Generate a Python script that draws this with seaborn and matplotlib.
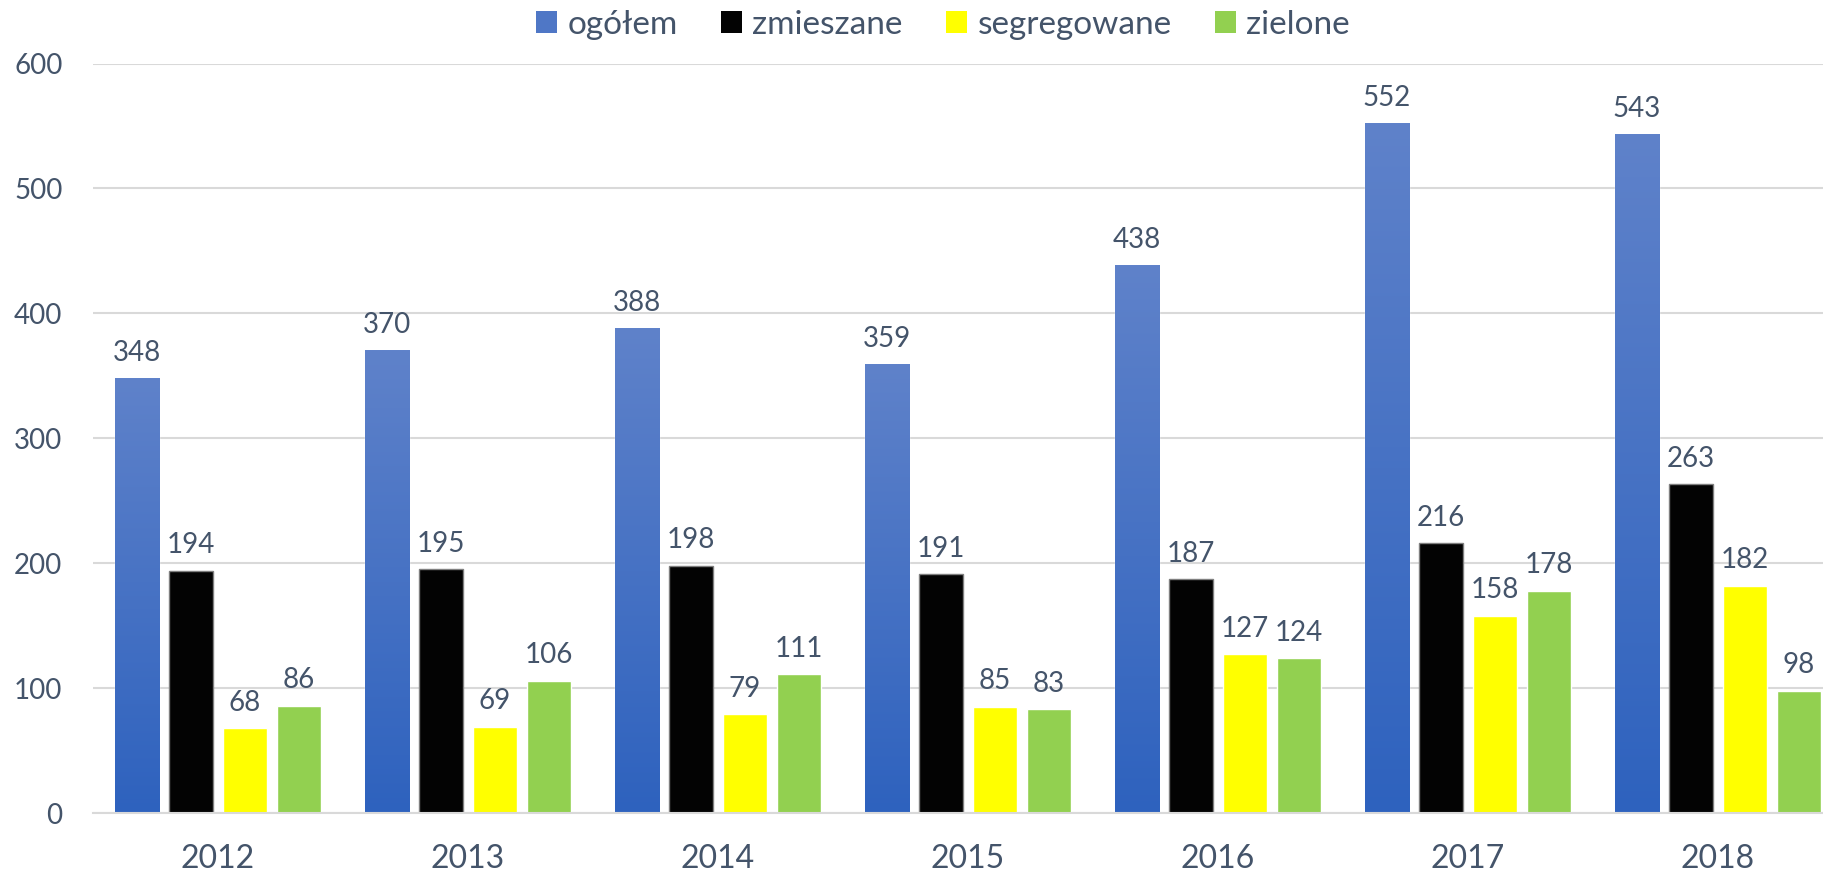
import numpy as np
import pandas as pd
import matplotlib
matplotlib.use("Agg")
import matplotlib.pyplot as plt
from matplotlib.colors import LinearSegmentedColormap
from matplotlib.patches import Patch
import seaborn as sns

years = ["2012", "2013", "2014", "2015", "2016", "2017", "2018"]
series = ["ogółem", "zmieszane", "segregowane", "zielone"]
ogolem = [348, 370, 388, 359, 438, 552, 543]
zmieszane = [194, 195, 198, 191, 187, 216, 263]
segregowane = [68, 69, 79, 85, 127, 158, 182]
zielone = [86, 106, 111, 83, 124, 178, 98]
colors = ["#4472C4", "#030303", "#FFFF00", "#92D050"]

df = pd.DataFrame({
    "rok": years * 4,
    "seria": np.repeat(series, len(years)),
    "wartosc": ogolem + zmieszane + segregowane + zielone,
})

sns.set_style("white")
plt.rcParams["font.family"] = ["Lato", "DejaVu Sans"]
txt = "#44546A"

fig = plt.figure(figsize=(18.24, 8.74), dpi=100)
ax = fig.add_axes([93 / 1824, 1 - 813 / 874, 1 - 93 / 1824, (813 - 63.5) / 874])

sns.barplot(data=df, x="rok", y="wartosc", hue="seria", order=years, hue_order=series,
            palette=colors, width=0.864, gap=0.185, legend=False, ax=ax, saturation=1)

# gradient on the blue bars
cmap = LinearSegmentedColormap.from_list("blue", ["#2E62BE", "#5F82CA"])
grad = np.linspace(0, 1, 256).reshape(-1, 1)
for p in ax.containers[0]:
    x, w, h = p.get_x(), p.get_width(), p.get_height()
    ax.imshow(grad, extent=[x, x + w, 0, h], origin="lower", aspect="auto",
              cmap=cmap, zorder=p.get_zorder() + 0.1)

for p in ax.containers[1]:
    p.set_edgecolor("#7F7F7F")
    p.set_linewidth(1)

for c in ax.containers:
    ax.bar_label(c, padding=9, fontsize=20, color=txt)

ax.set_xlim(-0.5, 6.5 - 19 / 250)
ax.set_ylim(0, 600)
ax.set_yticks([0, 100, 200, 300, 400, 500, 600])
ax.yaxis.grid(True, color="#D9D9D9", lw=1.5)
ax.set_axisbelow(True)
for s in ["top", "right", "left"]:
    ax.spines[s].set_visible(False)
ax.spines["bottom"].set_color("#D9D9D9")
ax.spines["bottom"].set_linewidth(1.5)
ax.tick_params(axis="y", length=0, pad=22, labelsize=20, labelcolor=txt)
ax.tick_params(axis="x", length=0, pad=22, labelsize=23, labelcolor=txt)
ax.set_xlabel("")
ax.set_ylabel("")

# legend on top, square markers
handles = [Patch(facecolor=c, edgecolor="none") for c in ["#4F77C6"] + colors[1:]]
fig.legend(handles, series, loc="center", bbox_to_anchor=(0.517, 1 - 25 / 874), ncol=4,
           frameon=False, fontsize=24, labelcolor=txt, handlelength=0.64, handleheight=0.64,
           handletextpad=0.3, columnspacing=1.3)

fig.savefig("out.png", dpi=100)
